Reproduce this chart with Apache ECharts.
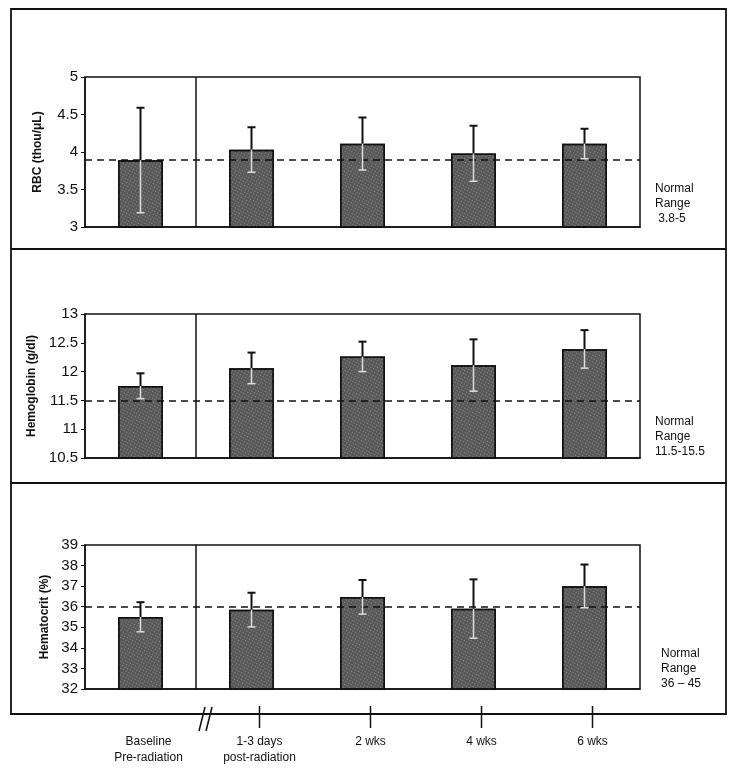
<!DOCTYPE html>
<html><head><meta charset="utf-8">
<script src="https://cdn.jsdelivr.net/npm/echarts@6/dist/echarts.min.js"></script>
<style>html,body{margin:0;padding:0;background:#fff}#c{width:740px;height:772px}</style>
</head><body><div id="c"></div>
<script>
const categories = ['Baseline\nPre-radiation', '1-3 days\npost-radiation', '2 wks', '4 wks', '6 wks'];
const rbcMean = [3.89, 4.03, 4.11, 3.98, 4.11];
const rbcSD   = [0.70, 0.30, 0.35, 0.37, 0.20];
const hgbMean = [11.75, 12.06, 12.26, 12.11, 12.39];
const hgbSD   = [0.22, 0.27, 0.26, 0.45, 0.33];
const hctMean = [35.5, 35.85, 36.47, 35.9, 37.0];
const hctSD   = [0.72, 0.83, 0.83, 1.43, 1.05];
const normalLow = [3.9, 11.5, 36];
const yNames = ['RBC (thou/μL)', 'Hemoglobin (g/dl)', 'Hematocrit (%)'];
const yMin = [3, 10.5, 32];
const yMax = [5, 13, 39];
const yInterval = [0.5, 0.5, 1];
const rangeTexts = ['Normal\nRange\n 3.8-5', 'Normal\nRange\n11.5-15.5', 'Normal\nRange\n36 \u2013 45'];
const timeTicks = [1, 2, 3, 4];

const chart = echarts.init(document.getElementById('c'), null, {renderer: 'canvas'});
const FONT = 'Liberation Sans, Arial, sans-serif';
const tops = [77, 314, 545];
const heights = [150, 144, 144];
const nameGaps = [41, 45, 34];
const means = [rbcMean, hgbMean, hctMean];
const sds = [rbcSD, hgbSD, hctSD];

const grids = [], xAxes = [], yAxes = [], series = [];
for (let p = 0; p < 3; p++) {
  grids.push({left: 85, right: 100, top: tops[p], height: heights[p], show: true,
    borderColor: '#111', borderWidth: 1.5, backgroundColor: 'transparent'});
  xAxes.push({type: 'category', gridIndex: p, data: categories,
    axisLine: {show: true, lineStyle: {color: '#111', width: 1.5}},
    axisTick: {show: false}, axisLabel: {show: false}, splitLine: {show: false}});
  yAxes.push({type: 'value', gridIndex: p, min: yMin[p], max: yMax[p], interval: yInterval[p],
    name: yNames[p], nameLocation: 'middle', nameGap: nameGaps[p], nameRotate: 90,
    nameTextStyle: {fontFamily: FONT, fontWeight: 'bold', fontSize: 12, color: '#111'},
    axisLine: {show: true, lineStyle: {color: '#111', width: 1.5}},
    axisTick: {show: true, length: 4, lineStyle: {color: '#111'}},
    axisLabel: {fontFamily: FONT, fontSize: 15, color: '#111', margin: 7},
    splitLine: {show: false}});
  series.push({type: 'bar', xAxisIndex: p, yAxisIndex: p, data: means[p], barWidth: 45,
    itemStyle: {color: '#595959', borderColor: '#111', borderWidth: 1.5,
      decal: {symbol: 'rect', symbolSize: 1, color: 'rgba(255,255,255,0.3)',
        dashArrayX: [1, 2], dashArrayY: [1, 2], rotation: 0.5}},
    markLine: {silent: true, symbol: ['none', 'none'], label: {show: false},
      lineStyle: {color: '#111', type: [7, 5], width: 1.5},
      data: [{yAxis: normalLow[p]}]},
    z: 2});
  const m = means[p], s = sds[p];
  series.push({type: 'custom', xAxisIndex: p, yAxisIndex: p, z: 5,
    data: m.map((v, i) => [i, v, s[i]]),
    renderItem: function (params, api) {
      const i = api.value(0), v = api.value(1), e = api.value(2);
      const pm = api.coord([i, v]);
      const ph = api.coord([i, v + e]);
      const pl = api.coord([i, v - e]);
      const x = pm[0], cw = 4;
      return {type: 'group', children: [
        {type: 'line', shape: {x1: x, y1: pm[1], x2: x, y2: ph[1]}, style: {stroke: '#111', lineWidth: 2}},
        {type: 'line', shape: {x1: x - cw, y1: ph[1], x2: x + cw, y2: ph[1]}, style: {stroke: '#111', lineWidth: 2}},
        {type: 'line', shape: {x1: x, y1: pm[1], x2: x, y2: pl[1]}, style: {stroke: '#ddd', lineWidth: 1.5}},
        {type: 'line', shape: {x1: x - cw, y1: pl[1], x2: x + cw, y2: pl[1]}, style: {stroke: '#ddd', lineWidth: 1.5}}
      ]};
    }});
  series.push({type: 'custom', xAxisIndex: p, yAxisIndex: p, z: 4, data: [[0]],
    renderItem: function (params, api) {
      const c0 = api.coord([0, yMax[p]]);
      const c1 = api.coord([0, yMin[p]]);
      const w = api.size([1, 0])[0];
      const x = c0[0] + w / 2;
      return {type: 'line', shape: {x1: x, y1: c0[1], x2: x, y2: c1[1]}, style: {stroke: '#111', lineWidth: 1.5}};
    }});
}
// bottom time axis
grids.push({left: 93, right: 92, top: 706, height: 22, show: false});
xAxes.push({type: 'category', gridIndex: 3, data: categories, position: 'bottom',
  axisLine: {show: false}, axisTick: {show: false},
  axisLabel: {fontFamily: FONT, fontSize: 12, color: '#111', margin: 6, lineHeight: 16, interval: 0}});
yAxes.push({type: 'value', gridIndex: 3, show: false, min: 0, max: 1});
series.push({type: 'custom', xAxisIndex: 3, yAxisIndex: 3, z: 6,
  data: timeTicks.map(i => [i]),
  renderItem: function (params, api) {
    const t = api.coord([api.value(0), 1]);
    const b = api.coord([api.value(0), 0]);
    return {type: 'line', shape: {x1: t[0], y1: t[1], x2: b[0], y2: b[1]}, style: {stroke: '#111', lineWidth: 1.5}};
  }});

const graphic = [
  {type: 'rect', shape: {x: 11, y: 9, width: 715, height: 705}, style: {fill: 'none', stroke: '#111', lineWidth: 1.8}, z: 10},
  {type: 'line', shape: {x1: 11, y1: 249, x2: 726, y2: 249}, style: {stroke: '#111', lineWidth: 1.8}, z: 10},
  {type: 'line', shape: {x1: 11, y1: 483, x2: 726, y2: 483}, style: {stroke: '#111', lineWidth: 1.8}, z: 10},
  {type: 'line', shape: {x1: 199, y1: 731, x2: 205, y2: 707}, style: {stroke: '#111', lineWidth: 1.5}, z: 10},
  {type: 'line', shape: {x1: 206, y1: 731, x2: 212, y2: 707}, style: {stroke: '#111', lineWidth: 1.5}, z: 10}
];
const rangeY = [181, 414, 646];
const rangeX = [655, 655, 661];
for (let p = 0; p < 3; p++) {
  graphic.push({type: 'text', left: rangeX[p], top: rangeY[p], z: 10,
    style: {text: rangeTexts[p], font: '12px ' + FONT, fill: '#111', lineHeight: 15, textAlign: 'left'}});
}

chart.setOption({
  animation: false,
  backgroundColor: '#fff',
  aria: {enabled: false},
  grid: grids, xAxis: xAxes, yAxis: yAxes, series: series, graphic: graphic
});
</script></body></html>
